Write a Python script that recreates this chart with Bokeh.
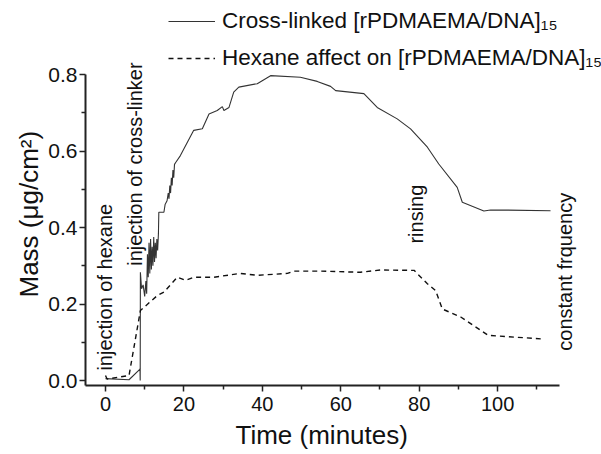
import math
from bokeh.plotting import figure
from bokeh.models import (Legend, LegendItem, Label, FixedTicker, PrintfTickFormatter,
                          Range1d, Title)
from bokeh.embed import file_html
from bokeh.resources import INLINE

# ---- data ----
crosslinked_time = [0, 6, 8.8, 8.85, 8.9, 9.2, 9.6, 10.0, 10.3, 10.5, 10.7, 10.9, 11.1, 11.3,
                    11.5, 11.7, 11.9, 12.1, 12.3, 12.5, 12.7, 12.9, 13.1, 13.3, 13.5, 13.6,
                    14.9, 15.2, 15.7, 16.0, 16.2, 16.4, 16.6, 16.8, 17.0, 17.2, 17.4, 17.6,
                    17.9, 19.1, 22.5, 24.7, 26.4, 28.5, 29.8, 30.2, 31.5, 32.7, 34.0, 38.7,
                    42.1, 49.7, 54.0, 57.4, 58.7, 65.9, 69.3, 74.4, 77.8, 82.1, 85.0, 89.7,
                    91.0, 96.5, 98.2, 113.5]
crosslinked_mass = [0.005, 0.002, 0.03, 0.0, 0.283, 0.24, 0.25, 0.22, 0.26, 0.227, 0.33, 0.27,
                    0.36, 0.28, 0.37, 0.29, 0.35, 0.30, 0.375, 0.31, 0.36, 0.32, 0.37, 0.34,
                    0.384, 0.44, 0.44, 0.46, 0.47, 0.49, 0.475, 0.51, 0.49, 0.53, 0.51, 0.55,
                    0.53, 0.565, 0.57, 0.588, 0.654, 0.658, 0.697, 0.706, 0.716, 0.706, 0.714,
                    0.754, 0.767, 0.776, 0.797, 0.793, 0.782, 0.769, 0.758, 0.750, 0.714,
                    0.684, 0.658, 0.61, 0.566, 0.505, 0.466, 0.443, 0.446, 0.444]

hexane_time = [0, 0.4, 6, 8.9, 13.2, 14.9, 18.3, 20.4, 22.5, 27.6, 34.4, 38.7, 46.4, 48,
               54.8, 65, 70.2, 78.7, 82.1, 84.2, 85.9, 90.6, 97.6, 111]
hexane_mass = [0.013, 0.004, 0.013, 0.183, 0.222, 0.231, 0.27, 0.262, 0.27, 0.27, 0.28,
               0.275, 0.28, 0.286, 0.286, 0.283, 0.289, 0.288, 0.253, 0.235, 0.187, 0.166,
               0.118, 0.109]

x_ticks = [0, 20, 40, 60, 80, 100]
y_ticks = [0.0, 0.2, 0.4, 0.6, 0.8]

series_labels = ["Cross-linked [rPDMAEMA/DNA]\u2081\u2085",
                 "Hexane affect on [rPDMAEMA/DNA]\u2081\u2085"]
x_title = "Time (minutes)"
y_title = "Mass (\u03bcg/cm\u00b2)"

annot_texts = ["injection of hexane", "injection of cross-linker", "rinsing", "constant frquency"]
annot_x = [-0.2, 7.4, 79.1, 117.1]
annot_y = [0.026, 0.30, 0.358, 0.078]

FONT = "Liberation Sans"

# axes drawn only over the reference's extent; the frame itself reaches the canvas edges
X_AXIS_SPAN = (-5.1, 115.8)
Y_AXIS_SPAN = (-0.013, 0.8)

p = figure(width=601, height=454, output_backend="svg", toolbar_location=None,
           x_range=Range1d(-5.1, 126.5), y_range=Range1d(-0.013, 0.9935),
           min_border_left=85, min_border_right=0, min_border_top=0, min_border_bottom=69)
p.outline_line_color = None
p.grid.grid_line_color = None
p.background_fill_color = "white"
p.border_fill_color = "white"

r1 = p.line(crosslinked_time, crosslinked_mass, line_color="#333333", line_width=1.1)
r2 = p.line(hexane_time, hexane_mass, line_color="#111111", line_width=1.4, line_dash="5 4")

for ax, span in ((p.xaxis[0], X_AXIS_SPAN), (p.yaxis[0], Y_AXIS_SPAN)):
    ax.bounds = span
    ax.axis_line_color = "#222222"
    ax.axis_line_width = 2
    ax.major_tick_line_color = "#222222"
    ax.major_tick_line_width = 1.5
    ax.minor_tick_line_color = "#222222"
    ax.minor_tick_line_width = 1.5
    ax.major_tick_out = 6
    ax.major_tick_in = 0
    ax.minor_tick_out = 4
    ax.minor_tick_in = 0
    ax.major_label_text_font = FONT
    ax.major_label_text_color = "#111111"

p.xaxis[0].major_label_text_font_size = "20px"
p.yaxis[0].major_label_text_font_size = "21px"
p.xaxis[0].ticker = FixedTicker(ticks=x_ticks, minor_ticks=[t + 10 for t in x_ticks if t + 10 < 115])
p.yaxis[0].ticker = FixedTicker(ticks=y_ticks, minor_ticks=[round(t + 0.1, 1) for t in y_ticks[:-1]])
p.yaxis[0].formatter = PrintfTickFormatter(format="%.1f")
p.xaxis[0].major_label_standoff = 5
p.yaxis[0].major_label_standoff = 2

# axis titles as panel titles so that they can be offset along the axis
p.add_layout(Title(text=y_title, align="left", offset=88, standoff=4,
                   text_font=FONT, text_font_size="26px", text_font_style="normal",
                   text_color="#111111"), "left")
p.add_layout(Title(text=x_title, align="left", offset=150, standoff=8,
                   text_font=FONT, text_font_size="26px", text_font_style="normal",
                   text_color="#111111"), "below")

for t, x, y in zip(annot_texts, annot_x, annot_y):
    p.add_layout(Label(x=x, y=y, text=t, angle=math.pi / 2, text_align="left",
                       text_baseline="middle", text_font=FONT, text_font_size="20px",
                       text_color="#111111"))

legend = Legend(items=[LegendItem(label=series_labels[0], renderers=[r1]),
                       LegendItem(label=series_labels[1], renderers=[r2])],
                location=(83, 312), orientation="vertical",
                label_text_font=FONT, label_text_font_size="22.5px", label_text_color="#111111",
                glyph_width=47, glyph_height=30, label_height=30, label_standoff=7,
                spacing=7, padding=0, margin=0, border_line_color=None,
                background_fill_alpha=0)
p.add_layout(legend, "center")

open("out.html", "w").write(file_html(p, INLINE))
